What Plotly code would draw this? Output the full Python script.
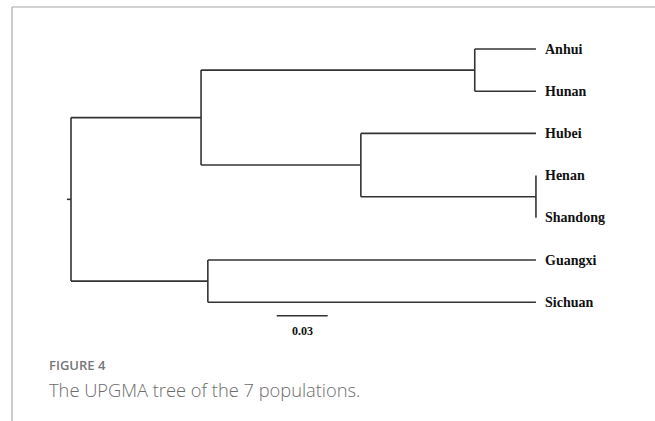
import plotly.graph_objects as go

# Leaf order (top to bottom) and UPGMA merge heights (distance units)
leaves = ["Anhui", "Hunan", "Hubei", "Henan", "Shandong", "Guangxi", "Sichuan"]
merges = [
    ("Henan", "Shandong", 0.0),
    ("Anhui", "Hunan", 0.036),
    ("Hubei", "Henan+Shandong", 0.103),
    ("Anhui+Hunan", "Hubei+Henan+Shandong", 0.197),
    ("Guangxi", "Sichuan", 0.193),
    ("Anhui+Hunan+Hubei+Henan+Shandong", "Guangxi+Sichuan", 0.2735),
]
scale_length = 0.03
scale_label = "0.03"

root_height = merges[-1][2]
LINE = dict(color="#333333", width=1.6)

# node position: x = distance from root, y = leaf index (mean of children)
pos = {name: (root_height, i) for i, name in enumerate(leaves)}
xs, ys = [], []
for left, right, h in merges:
    x = root_height - h
    xl, yl = pos[left]
    xr, yr = pos[right]
    # horizontal branches to children
    xs += [x, xl, None, x, xr, None]
    ys += [yl, yl, None, yr, yr, None]
    # vertical connector
    xs += [x, x, None]
    ys += [yl, yr, None]
    pos[left + "+" + right] = (x, (yl + yr) / 2)

# short stub at the root
root_x, root_y = pos[list(pos)[-1]]
xs += [root_x - 0.0024, root_x, None]
ys += [root_y, root_y, None]

fig = go.Figure()
fig.add_trace(go.Scatter(x=xs, y=ys, mode="lines", line=LINE,
                         hoverinfo="skip", showlegend=False))

# leaf labels
for i, name in enumerate(leaves):
    fig.add_annotation(x=root_height + 0.0041, y=i, text="<b>%s</b>" % name,
                       xref="x", yref="y", xanchor="left", yanchor="middle",
                       showarrow=False,
                       font=dict(family="Liberation Serif", size=14, color="#111111"))

# scale bar
bar_x0 = 0.121
bar_y = 6.32
fig.add_trace(go.Scatter(x=[bar_x0, bar_x0 + scale_length], y=[bar_y, bar_y],
                         mode="lines", line=LINE, hoverinfo="skip", showlegend=False))
fig.add_annotation(x=bar_x0 + scale_length / 2, y=bar_y + 0.36,
                   text="<b>%s</b>" % scale_label, xref="x", yref="y",
                   xanchor="center", yanchor="middle", showarrow=False,
                   font=dict(family="Liberation Serif", size=12, color="#111111"))

# caption
fig.add_annotation(x=47 / 655, y=1 - 365 / 421, xref="paper", yref="paper",
                   text="FIGURE 4", xanchor="left", yanchor="middle",
                   showarrow=False,
                   font=dict(family="Open Sans", size=13, color="#777777", weight=600))
fig.add_annotation(x=47 / 655, y=1 - 389 / 421, xref="paper", yref="paper",
                   text="The UPGMA tree of the 7 populations.", xanchor="left",
                   yanchor="middle", showarrow=False,
                   font=dict(family="Open Sans", size=18.3, color="#6c6c6c", weight=300))

# frame lines (top and left)
fx = 12 / 655
fy = 1 - 7 / 421
fig.add_shape(type="line", xref="paper", yref="paper", x0=fx, x1=1, y0=fy, y1=fy,
              line=dict(color="#a8a8a8", width=1.2))
fig.add_shape(type="line", xref="paper", yref="paper", x0=fx, x1=fx, y0=0, y1=fy,
              line=dict(color="#a8a8a8", width=1.2))

px_per_unit = 1700.0
x_root_px = 71.0
leaf_top_px = 49.0
leaf_step_px = 42.2
fig.update_layout(
    width=655, height=421,
    margin=dict(l=0, r=0, t=0, b=0),
    paper_bgcolor="white", plot_bgcolor="white",
    xaxis=dict(range=[-x_root_px / px_per_unit, (655 - x_root_px) / px_per_unit],
               visible=False, fixedrange=True),
    yaxis=dict(range=[(421 - leaf_top_px) / leaf_step_px, -leaf_top_px / leaf_step_px],
               visible=False, fixedrange=True),
    hovermode=False,
)

fig.write_html("out.html")
